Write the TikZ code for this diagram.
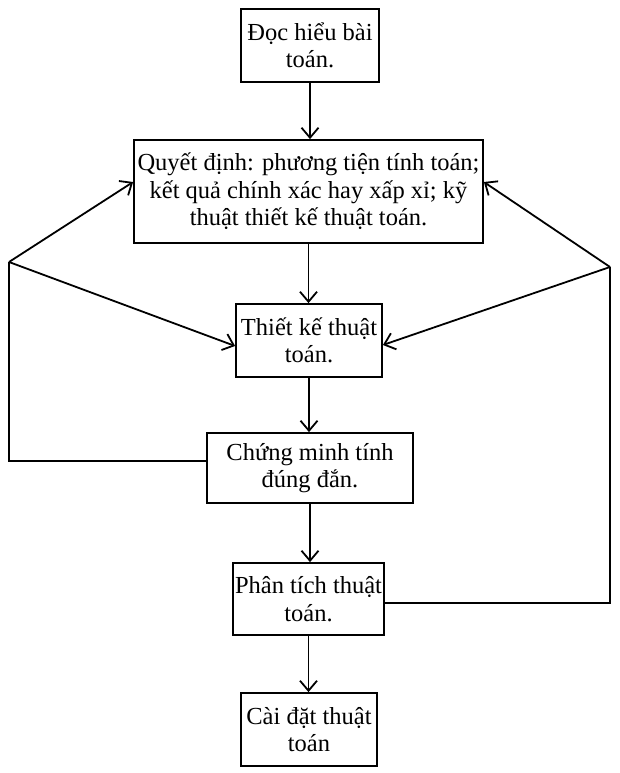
\documentclass[tikz,border=0pt]{standalone}
\usepackage{fontspec}
\setmainfont{Liberation Serif}
\usetikzlibrary{arrows.meta}
\begin{document}
\begin{tikzpicture}[x=1pt,y=-1pt,
  box/.style={draw,line width=1.8pt,align=center,inner sep=2pt,font=\fontsize{24.5}{27.5}\selectfont},
  conn/.style={line width=1.8pt},
  arr/.style={conn,-{Straight Barb[length=10pt,width=17pt,line width=1.8pt]}}]
\useasboundingbox (0,0) rectangle (619,773);
\node[box,minimum width=138pt,minimum height=73pt] (b1) at (310,45.5) {Đọc hiểu bài\\toán.};
\node[box,minimum width=349pt,minimum height=103pt] (b2) at (308.5,191.5) {Quyết định: phương tiện tính toán;\\kết quả chính xác hay xấp xỉ; kỹ\\thuật thiết kế thuật toán.};
\node[box,minimum width=146pt,minimum height=73pt] (b3) at (309,340.5) {Thiết kế thuật\\toán.};
\node[box,minimum width=206pt,minimum height=70pt] (b4) at (310,468) {Chứng minh tính\\đúng đắn.};
\node[box,minimum width=149pt,minimum height=72pt] (b5) at (308.5,599) {Phân tích thuật\\toán.};
\node[box,minimum width=136pt,minimum height=73pt] (b6) at (309,729.5) {Cài đặt thuật\\toán};
\coordinate (L) at (9,262);
\coordinate (Lb) at (9,461);
\coordinate (R) at (610,267);
\coordinate (Rb) at (610,603);
\draw[arr] (b1.south) -- (b1.south |- b2.north);
\draw[arr] (b2.south) -- (b2.south |- b3.north);
\draw[arr] (b3.south) -- (b3.south |- b4.north);
\draw[arr] (b4.south) -- (b4.south |- b5.north);
\draw[arr] (b5.south) -- (b5.south |- b6.north);
\draw[conn] ([yshift=7pt]b4.west) -- (Lb) -- (L);
\draw[arr] (L) -- ([yshift=9.5pt]b2.west);
\draw[arr] (L) -- ([yshift=-5.5pt]b3.west);
\draw[conn] ([yshift=-4pt]b5.east) -- (Rb) -- (R);
\draw[arr] (R) -- ([yshift=9.5pt]b2.east);
\draw[arr] (R) -- ([yshift=-4.5pt]b3.east);
\end{tikzpicture}
\end{document}
